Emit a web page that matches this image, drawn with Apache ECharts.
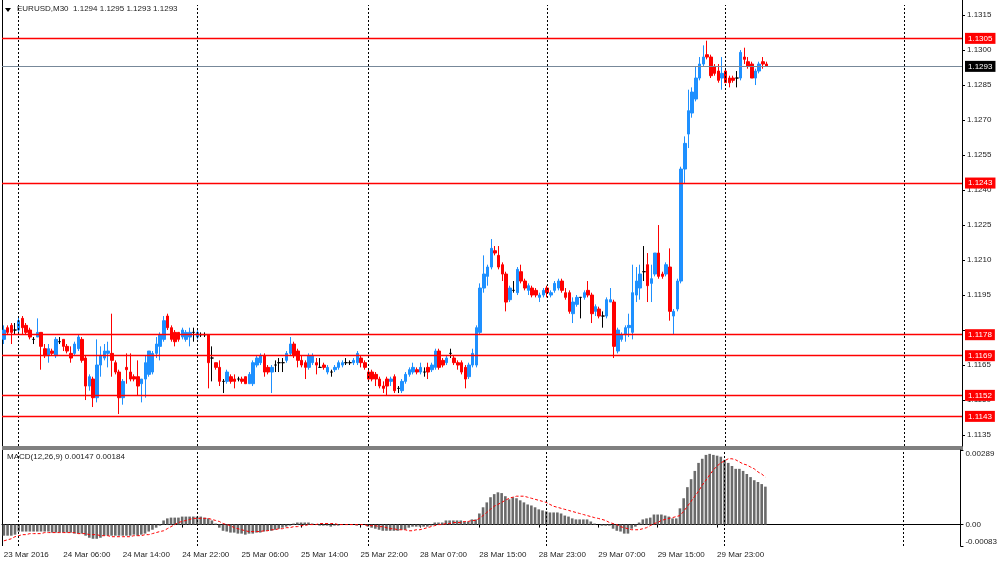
<!DOCTYPE html>
<html>
<head>
<meta charset="utf-8">
<title>EURUSD,M30</title>
<script src="https://cdn.jsdelivr.net/npm/echarts@6/dist/echarts.min.js"></script>
<style>
html, body { margin: 0; padding: 0; background: #fff; }
#chart { width: 1000px; height: 565px; }
</style>
</head>
<body>
<div id="chart"></div>
<script>
// M30 bars, 23 Mar 22:00 .. 30 Mar 05:00
const opens = [
  1.1176, 1.1181, 1.1182, 1.1180, 1.1180, 1.1185, 1.1182, 1.1180, 1.1176, 1.1177,
  1.1179, 1.1172, 1.1169, 1.1171, 1.1169, 1.1175, 1.1176, 1.1173, 1.1170, 1.1170,
  1.1172, 1.1176, 1.1168, 1.1156, 1.1159, 1.1151, 1.1165, 1.1168, 1.1170, 1.1170,
  1.1166, 1.1162, 1.1151, 1.1164, 1.1162, 1.1160, 1.1160, 1.1157, 1.1159, 1.1161,
  1.1162, 1.1170, 1.1173, 1.1176, 1.1186, 1.1181, 1.1179, 1.1179, 1.1177, 1.1176,
  1.1177, 1.1179, 1.1177, 1.1178, 1.1178, 1.1178, 1.1168, 1.1166, 1.1164, 1.1158,
  1.1158, 1.1160, 1.1159, 1.1159, 1.1159, 1.1160, 1.1157, 1.1157, 1.1165, 1.1166,
  1.1169, 1.1164, 1.1162, 1.1165, 1.1166, 1.1166, 1.1167, 1.1170, 1.1174, 1.1171,
  1.1167, 1.1166, 1.1164, 1.1166, 1.1166, 1.1164, 1.1165, 1.1162, 1.1162, 1.1163,
  1.1164, 1.1165, 1.1166, 1.1166, 1.1166, 1.1166, 1.1168, 1.1166, 1.1162, 1.1162,
  1.1161, 1.1159, 1.1156, 1.1159, 1.1158, 1.1160, 1.1155, 1.1154, 1.1158, 1.1161,
  1.1162, 1.1163, 1.1162, 1.1162, 1.1164, 1.1163, 1.1164, 1.1171, 1.1167, 1.1166,
  1.1170, 1.1168, 1.1166, 1.1166, 1.1164, 1.1160, 1.1165, 1.1165, 1.1179, 1.1198,
  1.1203, 1.1207, 1.1214, 1.1212, 1.1208, 1.1204, 1.1193, 1.1197, 1.1196, 1.1205,
  1.1201, 1.1197, 1.1198, 1.1197, 1.1194, 1.1195, 1.1198, 1.1195, 1.1197, 1.1198,
  1.1201, 1.1196, 1.1196, 1.1187, 1.1191, 1.1194, 1.1194, 1.1197, 1.1195, 1.1188,
  1.1189, 1.1186, 1.1186, 1.1192, 1.1192, 1.1171, 1.1176, 1.1178, 1.1181, 1.1179,
  1.1195, 1.1198, 1.1205, 1.1208, 1.1200, 1.1204, 1.1213, 1.1204, 1.1204, 1.1207,
  1.1186, 1.1189, 1.1201, 1.1249, 1.1264, 1.1273, 1.1279, 1.1288, 1.1294, 1.1298,
  1.1297, 1.1293, 1.1291, 1.1288, 1.1291, 1.1288, 1.1288, 1.1288, 1.1288, 1.1297,
  1.1295, 1.1294, 1.1288, 1.1291, 1.1295, 1.1294
];
const highs = [
  1.1182, 1.1182, 1.1183, 1.1183, 1.1186, 1.1186, 1.1183, 1.1181, 1.1177, 1.1185,
  1.1179, 1.1174, 1.1174, 1.1172, 1.1177, 1.1177, 1.1176, 1.1174, 1.1173, 1.1175,
  1.1178, 1.1177, 1.1169, 1.1161, 1.1160, 1.1176, 1.1173, 1.1174, 1.1175, 1.1187,
  1.1167, 1.1163, 1.1159, 1.1170, 1.1170, 1.1161, 1.1167, 1.1159, 1.1169, 1.1171,
  1.1171, 1.1177, 1.1179, 1.1186, 1.1187, 1.1182, 1.1180, 1.1179, 1.1181, 1.1180,
  1.1181, 1.1181, 1.1180, 1.1179, 1.1179, 1.1178, 1.1173, 1.1166, 1.1167, 1.1159,
  1.1163, 1.1161, 1.1161, 1.1160, 1.1160, 1.1160, 1.1162, 1.1167, 1.1169, 1.1170,
  1.1170, 1.1165, 1.1165, 1.1167, 1.1168, 1.1168, 1.1171, 1.1177, 1.1175, 1.1172,
  1.1169, 1.1167, 1.1170, 1.1170, 1.1168, 1.1168, 1.1166, 1.1165, 1.1163, 1.1165,
  1.1167, 1.1167, 1.1168, 1.1167, 1.1168, 1.1171, 1.1169, 1.1167, 1.1163, 1.1163,
  1.1162, 1.1160, 1.1158, 1.1160, 1.1160, 1.1161, 1.1156, 1.1159, 1.1162, 1.1164,
  1.1166, 1.1164, 1.1166, 1.1164, 1.1166, 1.1166, 1.1172, 1.1172, 1.1168, 1.1169,
  1.1172, 1.1169, 1.1167, 1.1167, 1.1165, 1.1166, 1.1172, 1.1182, 1.1200, 1.1212,
  1.1208, 1.1219, 1.1216, 1.1216, 1.1209, 1.1205, 1.1199, 1.1201, 1.1207, 1.1208,
  1.1202, 1.1200, 1.1199, 1.1198, 1.1196, 1.1198, 1.1199, 1.1197, 1.1201, 1.1202,
  1.1202, 1.1198, 1.1197, 1.1194, 1.1195, 1.1194, 1.1197, 1.1201, 1.1196, 1.1191,
  1.1190, 1.1188, 1.1194, 1.1198, 1.1193, 1.1181, 1.1179, 1.1182, 1.1187, 1.1208,
  1.1207, 1.1208, 1.1216, 1.1213, 1.1208, 1.1213, 1.1225, 1.1205, 1.1209, 1.1215,
  1.1189, 1.1202, 1.1250, 1.1263, 1.1283, 1.1284, 1.1293, 1.1297, 1.1302, 1.1304,
  1.1298, 1.1294, 1.1294, 1.1297, 1.1292, 1.1289, 1.1289, 1.1291, 1.1300, 1.1301,
  1.1297, 1.1295, 1.1292, 1.1295, 1.1297, 1.1295
];
const lows = [
  1.1174, 1.1178, 1.1174, 1.1178, 1.1179, 1.1178, 1.1178, 1.1176, 1.1174, 1.1177,
  1.1163, 1.1168, 1.1166, 1.1169, 1.1168, 1.1174, 1.1171, 1.1170, 1.1166, 1.1169,
  1.1171, 1.1166, 1.1150, 1.1154, 1.1147, 1.1149, 1.1160, 1.1167, 1.1164, 1.1160,
  1.1161, 1.1144, 1.1148, 1.1157, 1.1158, 1.1158, 1.1152, 1.1149, 1.1151, 1.1160,
  1.1161, 1.1168, 1.1167, 1.1175, 1.1180, 1.1175, 1.1173, 1.1175, 1.1176, 1.1175,
  1.1173, 1.1175, 1.1176, 1.1177, 1.1177, 1.1155, 1.1158, 1.1163, 1.1156, 1.1153,
  1.1157, 1.1157, 1.1155, 1.1158, 1.1157, 1.1157, 1.1157, 1.1156, 1.1164, 1.1165,
  1.1160, 1.1161, 1.1153, 1.1162, 1.1162, 1.1162, 1.1166, 1.1169, 1.1168, 1.1164,
  1.1164, 1.1159, 1.1163, 1.1165, 1.1161, 1.1164, 1.1163, 1.1161, 1.1160, 1.1162,
  1.1163, 1.1164, 1.1165, 1.1165, 1.1165, 1.1165, 1.1164, 1.1163, 1.1158, 1.1158,
  1.1156, 1.1155, 1.1153, 1.1152, 1.1156, 1.1153, 1.1153, 1.1153, 1.1157, 1.1160,
  1.1161, 1.1161, 1.1161, 1.1160, 1.1159, 1.1162, 1.1163, 1.1163, 1.1164, 1.1165,
  1.1168, 1.1165, 1.1163, 1.1161, 1.1155, 1.1159, 1.1164, 1.1164, 1.1178, 1.1196,
  1.1199, 1.1206, 1.1212, 1.1206, 1.1201, 1.1188, 1.1192, 1.1196, 1.1195, 1.1200,
  1.1197, 1.1195, 1.1194, 1.1194, 1.1192, 1.1194, 1.1194, 1.1194, 1.1196, 1.1197,
  1.1196, 1.1193, 1.1187, 1.1183, 1.1190, 1.1185, 1.1193, 1.1194, 1.1183, 1.1186,
  1.1185, 1.1181, 1.1185, 1.1192, 1.1168, 1.1170, 1.1175, 1.1175, 1.1177, 1.1176,
  1.1192, 1.1193, 1.1201, 1.1192, 1.1192, 1.1203, 1.1202, 1.1202, 1.1203, 1.1184,
  1.1178, 1.1188, 1.1200, 1.1243, 1.1258, 1.1271, 1.1278, 1.1287, 1.1293, 1.1296,
  1.1288, 1.1289, 1.1286, 1.1283, 1.1286, 1.1284, 1.1286, 1.1284, 1.1287, 1.1294,
  1.1292, 1.1288, 1.1285, 1.1290, 1.1292, 1.1293
];
const closes = [
  1.1180, 1.1179, 1.1179, 1.1180, 1.1184, 1.1181, 1.1179, 1.1177, 1.1176, 1.1179,
  1.1173, 1.1169, 1.1172, 1.1170, 1.1176, 1.1175, 1.1173, 1.1171, 1.1168, 1.1174,
  1.1177, 1.1167, 1.1156, 1.1160, 1.1151, 1.1165, 1.1169, 1.1171, 1.1171, 1.1167,
  1.1162, 1.1151, 1.1158, 1.1163, 1.1159, 1.1159, 1.1156, 1.1159, 1.1166, 1.1171,
  1.1170, 1.1174, 1.1178, 1.1184, 1.1181, 1.1176, 1.1175, 1.1176, 1.1180, 1.1179,
  1.1179, 1.1179, 1.1179, 1.1178, 1.1178, 1.1166, 1.1168, 1.1164, 1.1158, 1.1158,
  1.1162, 1.1158, 1.1158, 1.1159, 1.1158, 1.1157, 1.1161, 1.1166, 1.1168, 1.1169,
  1.1162, 1.1162, 1.1164, 1.1165, 1.1166, 1.1166, 1.1170, 1.1174, 1.1169, 1.1167,
  1.1165, 1.1164, 1.1169, 1.1169, 1.1165, 1.1164, 1.1164, 1.1164, 1.1162, 1.1164,
  1.1166, 1.1166, 1.1166, 1.1166, 1.1167, 1.1170, 1.1166, 1.1164, 1.1159, 1.1159,
  1.1159, 1.1156, 1.1155, 1.1156, 1.1159, 1.1154, 1.1155, 1.1158, 1.1161, 1.1163,
  1.1164, 1.1162, 1.1164, 1.1162, 1.1162, 1.1165, 1.1171, 1.1164, 1.1165, 1.1168,
  1.1170, 1.1166, 1.1165, 1.1162, 1.1159, 1.1165, 1.1170, 1.1181, 1.1198, 1.1204,
  1.1207, 1.1215, 1.1213, 1.1207, 1.1204, 1.1192, 1.1198, 1.1197, 1.1206, 1.1201,
  1.1198, 1.1199, 1.1195, 1.1195, 1.1195, 1.1197, 1.1196, 1.1196, 1.1200, 1.1201,
  1.1197, 1.1194, 1.1188, 1.1192, 1.1194, 1.1194, 1.1196, 1.1195, 1.1187, 1.1190,
  1.1186, 1.1186, 1.1193, 1.1193, 1.1173, 1.1180, 1.1178, 1.1181, 1.1182, 1.1196,
  1.1201, 1.1204, 1.1205, 1.1199, 1.1202, 1.1213, 1.1203, 1.1203, 1.1208, 1.1188,
  1.1188, 1.1201, 1.1249, 1.1260, 1.1274, 1.1282, 1.1288, 1.1294, 1.1297, 1.1297,
  1.1289, 1.1290, 1.1287, 1.1290, 1.1286, 1.1286, 1.1287, 1.1288, 1.1299, 1.1296,
  1.1293, 1.1288, 1.1291, 1.1294, 1.1294, 1.1293
];

// MACD(12,26,9), in units of 0.00001
const macdHist = [
  -43, -43, -43, -39, -27, -27, -27, -27, -27, -27,
  -27, -27, -27, -31, -31, -31, -31, -31, -31, -35,
  -35, -35, -43, -51, -55, -55, -51, -43, -43, -43,
  -43, -43, -43, -43, -43, -39, -43, -39, -35, -27,
  -20, -12, -4, 16, 24, 27, 27, 27, 31, 31,
  31, 31, 31, 31, 27, 24, 16, 4, -12, -24,
  -27, -31, -31, -35, -35, -39, -35, -35, -31, -31,
  -27, -24, -24, -20, -16, -12, -8, -4, 4, 8,
  8, 8, 8, 4, 0, -4, -4, -4, -8, -4,
  -4, 0, 0, 0, 0, -4, 0, 0, -8, -12,
  -16, -20, -24, -24, -24, -24, -24, -20, -20, -12,
  -8, -8, -8, -8, -8, -4, 8, 8, 8, 16,
  16, 16, 16, 16, 12, 12, 20, 20, 43, 67,
  86, 106, 118, 125, 122, 110, 98, 106, 102, 94,
  86, 78, 74, 67, 59, 55, 51, 47, 47, 47,
  43, 35, 31, 24, 20, 20, 20, 20, 12, 4,
  0, -4, -4, -4, -16, -24, -27, -35, -35, -16,
  -8, 8, 20, 24, 27, 39, 39, 39, 35, 31,
  24, 24, 63, 102, 145, 176, 208, 239, 255, 270,
  274, 270, 267, 263, 251, 239, 227, 216, 216, 208,
  196, 184, 172, 165, 157, 147
];
const macdSignal = [
  -63, -59, -55, -47, -43, -39, -39, -35, -35, -35,
  -35, -31, -31, -31, -31, -31, -31, -31, -31, -31,
  -35, -35, -35, -39, -39, -39, -43, -43, -43, -47,
  -47, -47, -47, -47, -47, -43, -43, -43, -39, -39,
  -35, -31, -27, -24, -16, -8, 0, 8, 12, 16,
  20, 24, 24, 24, 24, 24, 20, 16, 12, 4,
  0, -4, -12, -16, -20, -24, -27, -27, -27, -27,
  -24, -24, -20, -20, -16, -16, -12, -12, -8, -8,
  -4, -4, 0, 0, 0, 4, 4, 4, 4, 4,
  0, 0, 0, 0, 0, 0, 0, 0, -4, -4,
  -4, -8, -8, -12, -16, -16, -20, -20, -20, -24,
  -24, -20, -20, -16, -12, -8, -4, 0, 0, 4,
  4, 8, 8, 8, 12, 12, 16, 16, 24, 35,
  47, 59, 71, 78, 86, 94, 102, 106, 110, 110,
  110, 106, 102, 98, 94, 90, 86, 78, 71, 67,
  63, 59, 55, 51, 47, 43, 39, 35, 31, 27,
  24, 20, 16, 8, 4, 0, -8, -12, -16, -20,
  -20, -20, -16, -12, -4, 4, 8, 16, 20, 24,
  27, 31, 35, 51, 71, 90, 110, 129, 153, 172,
  192, 212, 227, 239, 247, 255, 255, 251, 243, 235,
  231, 223, 216, 204, 196, 184
];

const tickLabels = [
  '23 Mar 2016', '24 Mar 06:00', '24 Mar 14:00', '24 Mar 22:00', '25 Mar 06:00',
  '25 Mar 14:00', '25 Mar 22:00', '28 Mar 07:00', '28 Mar 15:00', '28 Mar 23:00',
  '29 Mar 07:00', '29 Mar 15:00', '29 Mar 23:00'
];
const labelStep = 16;
const daySeparators = [4, 52, 98, 146, 194, 242];
const levels = [1.1305, 1.1243, 1.1178, 1.1169, 1.1152, 1.1143];
const lastPrice = 1.1293;
const priceTicks = [1.1135, 1.1150, 1.1165, 1.1180, 1.1195, 1.1210, 1.1225, 1.1240,
  1.1255, 1.1270, 1.1285, 1.1300, 1.1315];
// 1.1180 sits under the 1.1178 level box, so it gets no label
const priceLabels = [1.1135, 1.1150, 1.1165, 1.1195, 1.1210, 1.1225, 1.1240,
  1.1255, 1.1270, 1.1285, 1.1300, 1.1315];
const macdTicks = [-0.00083, 0, 0.00289];
const slotCount = 258;

const chartDom = document.getElementById('chart');
const chart = echarts.init(chartDom);

const categories = Array.from({ length: slotCount }, (_, i) => String(i));
const candles = opens.map((o, i) => [o, closes[i], lows[i], highs[i]]);
const showTick = idx => idx % labelStep === 0 && idx / labelStep < tickLabels.length;
const font = 'Liberation Sans';

const separatorLines = daySeparators.map(i => ({
  xAxis: i,
  lineStyle: { color: '#000', type: [2, 2], width: 1 },
  label: { show: false }
}));
const levelLines = levels.map(v => ({
  yAxis: v,
  lineStyle: { color: '#ff0000', type: 'solid', width: 1.3 },
  label: {
    show: true, position: 'end', distance: 3, formatter: v.toFixed(4),
    color: '#fff', backgroundColor: '#ff0000', padding: [2, 3, 1, 3],
    fontSize: 8, fontFamily: font
  }
}));
const lastLine = {
  yAxis: lastPrice,
  lineStyle: { color: '#778899', type: 'solid', width: 1 },
  label: {
    show: true, position: 'end', distance: 3, formatter: lastPrice.toFixed(4),
    color: '#fff', backgroundColor: '#000', padding: [2, 3, 1, 3],
    fontSize: 8, fontFamily: font
  }
};

const option = {
  animation: false,
  textStyle: { fontFamily: font },
  grid: [
    { left: 2, top: 5, width: 960, height: 441 },
    { left: 2, top: 450, width: 960, height: 96 }
  ],
  xAxis: [
    {
      type: 'category', gridIndex: 0, data: categories,
      axisLine: { show: false }, axisTick: { show: false },
      axisLabel: { show: false }, splitLine: { show: false }
    },
    {
      type: 'category', gridIndex: 1, data: categories,
      axisLine: { show: true, lineStyle: { color: '#000' } },
      axisTick: { show: true, interval: showTick, alignWithLabel: true, length: 3, lineStyle: { color: '#000' } },
      axisLabel: {
        interval: showTick, align: 'left', margin: 5, fontSize: 8, color: '#222',
        formatter: (v, idx) => tickLabels[idx / labelStep]
      },
      splitLine: { show: false }
    }
  ],
  yAxis: [
    {
      type: 'value', gridIndex: 0, position: 'right', min: 1.11303, max: 1.13193,
      axisLine: { show: true, lineStyle: { color: '#000' } },
      axisTick: { show: true, length: 3, customValues: priceTicks, lineStyle: { color: '#000' } },
      axisLabel: { customValues: priceLabels, formatter: v => v.toFixed(4), fontSize: 8, color: '#222', margin: 5 },
      splitLine: { show: false }
    },
    {
      type: 'value', gridIndex: 1, position: 'right', min: -0.00083, max: 0.00289,
      axisLine: { show: true, lineStyle: { color: '#000' } },
      axisTick: { show: true, length: 3, customValues: macdTicks, lineStyle: { color: '#000' } },
      axisLabel: {
        customValues: macdTicks, fontSize: 8, color: '#222', margin: 5,
        verticalAlignMaxLabel: 'top', verticalAlignMinLabel: 'bottom',
        formatter: v => (v === 0 ? '0.00' : v.toFixed(5))
      },
      splitLine: { show: false }
    }
  ],
  graphic: [
    { type: 'line', shape: { x1: 2.5, y1: 0, x2: 2.5, y2: 546 }, style: { stroke: '#000', lineWidth: 1 } },
    { type: 'line', shape: { x1: 962.5, y1: 0, x2: 962.5, y2: 5 }, style: { stroke: '#000', lineWidth: 1 } },
    { type: 'rect', shape: { x: 2, y: 446, width: 961, height: 4 }, style: { fill: '#808080' } },
    { type: 'polygon', shape: { points: [[5, 8], [11, 8], [8, 12]] }, style: { fill: '#000' } },
    {
      type: 'text', left: 17, top: 5,
      style: { text: 'EURUSD,M30  1.1294 1.1295 1.1293 1.1293', fontSize: 8, fontFamily: font, fill: '#222' }
    },
    {
      type: 'text', left: 7, top: 453,
      style: { text: 'MACD(12,26,9) 0.00147 0.00184', fontSize: 8, fontFamily: font, fill: '#222' }
    }
  ],
  series: [
    {
      name: 'EURUSD', type: 'candlestick', xAxisIndex: 0, yAxisIndex: 0,
      data: candles, barWidth: 3,
      itemStyle: {
        color: '#1e90ff', color0: '#ff0000',
        borderColor: '#1e90ff', borderColor0: '#ff0000', borderColorDoji: '#000',
        borderWidth: 1
      },
      markLine: {
        silent: true, symbol: ['none', 'none'], animation: false, precision: 5,
        data: [...separatorLines, ...levelLines, lastLine]
      }
    },
    {
      name: 'MACD', type: 'bar', xAxisIndex: 1, yAxisIndex: 1,
      data: macdHist.map(v => v / 100000), barWidth: 2.6,
      itemStyle: { color: '#6a6a6a' },
      markLine: {
        silent: true, symbol: ['none', 'none'], animation: false,
        data: separatorLines
      }
    },
    {
      name: 'Signal', type: 'line', xAxisIndex: 1, yAxisIndex: 1,
      data: macdSignal.map(v => v / 100000), symbol: 'none',
      lineStyle: { color: '#ff0000', width: 1, type: [3, 2] }
    }
  ]
};

option && chart.setOption(option);
</script>
</body>
</html>
